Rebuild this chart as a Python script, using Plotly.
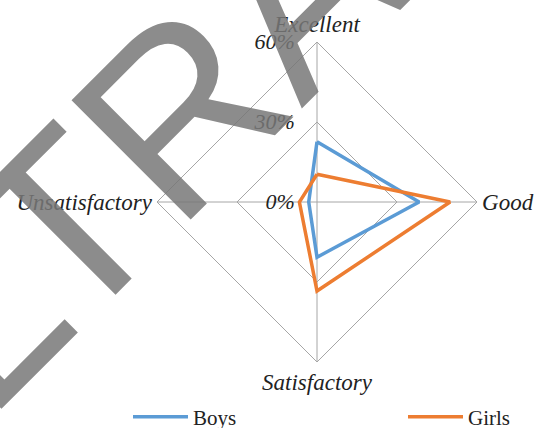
import plotly.graph_objects as go

categories = ["Excellent", "Good", "Satisfactory", "Unsatisfactory"]
boys = [22.6, 38.3, 20.7, 3.1]
girls = [10.4, 49.9, 33.4, 6.6]
radial_ticks = [0, 30, 60]
radial_labels = ["0%", "30%", "60%"]

W, H = 537, 428
B = 50                      # bottom margin reserved for the legend
Hp = H - B                  # plot-area height
cx, cy, R = 317, 202, 160

def px_x(px):
    return px / W

def px_y(py):
    return (Hp - py) / Hp

def closed(v):
    return list(v) + [v[0]]

fig = go.Figure()
fig.add_trace(go.Scatterpolar(r=closed(boys), theta=closed(categories), mode="lines",
                              name="Boys", legendwidth=205,
                              line=dict(color="#5B9BD5", width=3.5)))
fig.add_trace(go.Scatterpolar(r=closed(girls), theta=closed(categories), mode="lines",
                              name="Girls", legendwidth=50,
                              line=dict(color="#ED7D31", width=3.5)))

grid = "#a6a6a6"
fig.update_layout(
    width=W, height=H,
    margin=dict(l=0, r=0, t=0, b=B),
    paper_bgcolor="white",
    polar=dict(
        domain=dict(x=[px_x(cx - R), px_x(cx + R)], y=[px_y(cy + R), px_y(cy - R)]),
        bgcolor="white",
        gridshape="linear",
        angularaxis=dict(rotation=90, direction="clockwise", showline=True, linecolor=grid,
                         linewidth=1, gridcolor=grid, gridwidth=1, ticks="",
                         tickfont=dict(family="Liberation Serif", size=23, color="#222",
                                       style="italic"),
                         categoryorder="array", categoryarray=categories),
        radialaxis=dict(range=[0, 60], tickvals=radial_ticks, ticktext=radial_labels,
                        angle=90, tickangle=90, side="counterclockwise", showline=False,
                        gridcolor=grid, gridwidth=1, ticks="outside", ticklen=14,
                        tickcolor="rgba(0,0,0,0)",
                        tickfont=dict(family="Liberation Serif", size=22, color="#222",
                                      style="italic")),
    ),
    showlegend=True,
    legend=dict(orientation="h", x=128 / W, xanchor="left", xref="container",
                y=1 - 417 / H, yanchor="middle", yref="container",
                itemwidth=55, bgcolor="rgba(0,0,0,0)",
                font=dict(family="Liberation Serif", size=21, color="#222")),
    font=dict(family="Liberation Serif"),
)

fig.add_annotation(text="LTRA", xref="paper", yref="paper",
                   x=px_x(142), y=px_y(148), xanchor="center", yanchor="middle",
                   textangle=-45, showarrow=False, opacity=0.85,
                   font=dict(family="Liberation Sans", size=245, color="rgb(120,120,120)"))

fig.write_html("out.html")
